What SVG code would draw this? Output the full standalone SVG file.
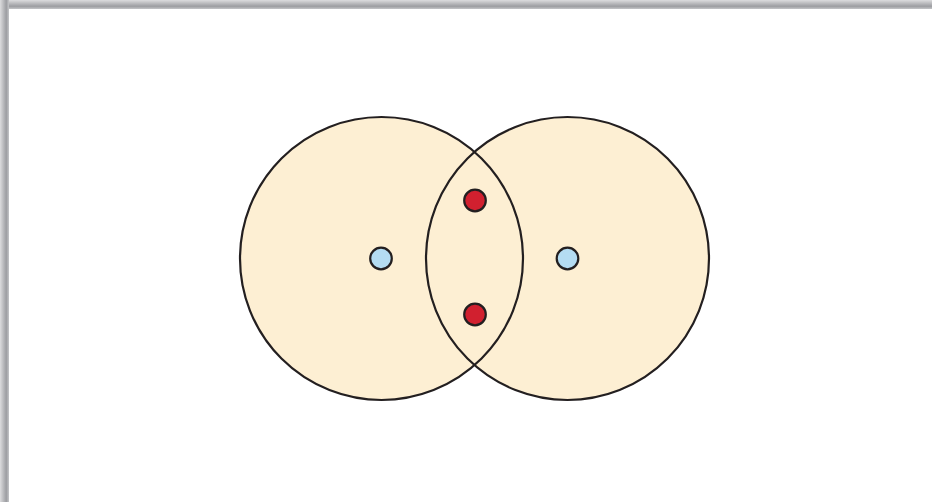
<svg xmlns="http://www.w3.org/2000/svg" width="932" height="502" viewBox="0 0 932 502">
  <defs>
    <linearGradient id="gTop" x1="0" y1="0" x2="0" y2="1">
      <stop offset="0" stop-color="#dcdcde"/>
      <stop offset="0.7" stop-color="#9c9da1"/>
      <stop offset="1" stop-color="#c4c5c8"/>
    </linearGradient>
    <linearGradient id="gLeft" x1="0" y1="0" x2="1" y2="0">
      <stop offset="0" stop-color="#dcdcde"/>
      <stop offset="0.7" stop-color="#9c9da1"/>
      <stop offset="1" stop-color="#c4c5c8"/>
    </linearGradient>
    <style>
      .big { fill: #fdefd3; }
      .ring { fill: none; stroke: #231f20; stroke-width: 2.2; }
      .red { fill: #d1202f; stroke: #231f20; stroke-width: 2.2; }
      .blue { fill: #b4dcf2; stroke: #231f20; stroke-width: 2.2; }
    </style>
  </defs>
  <rect x="0" y="0" width="932" height="502" fill="#ffffff"/>
  <rect x="0" y="0" width="932" height="9" fill="url(#gTop)"/>
  <rect x="0" y="0" width="9" height="502" fill="url(#gLeft)"/>
  <g id="circle-left"><circle class="big" cx="381.5" cy="258.5" r="141.5"/></g>
  <g id="circle-right"><circle class="big" cx="567.5" cy="258.5" r="141.5"/></g>
  <g id="connectors">
    <circle class="ring" cx="381.5" cy="258.5" r="141.5"/>
    <circle class="ring" cx="567.5" cy="258.5" r="141.5"/>
  </g>
  <g id="nucleus-left"><circle class="blue" cx="381" cy="258.5" r="10.8"/></g>
  <g id="nucleus-right"><circle class="blue" cx="567.5" cy="258.5" r="10.8"/></g>
  <g id="electron-top"><circle class="red" cx="475" cy="200.5" r="10.8"/></g>
  <g id="electron-bottom"><circle class="red" cx="475" cy="314.5" r="10.8"/></g>
</svg>
